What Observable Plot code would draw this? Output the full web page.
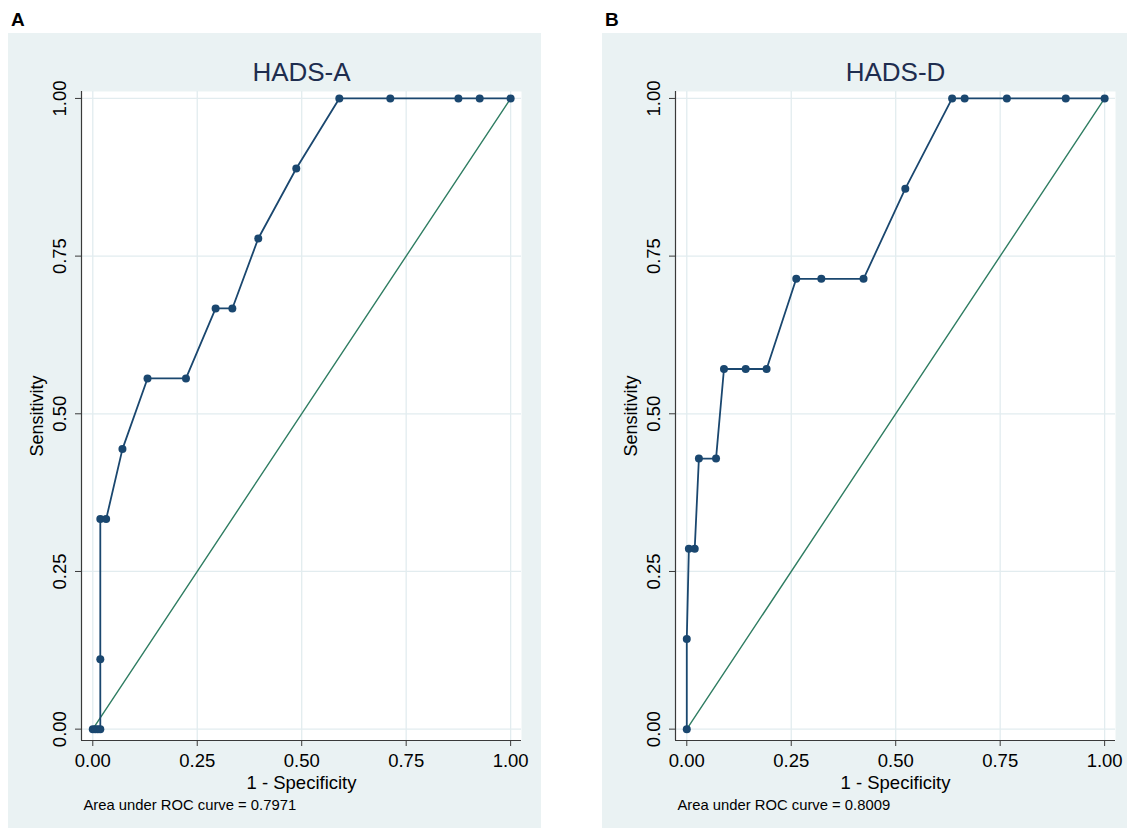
<!DOCTYPE html>
<html>
<head>
<meta charset="utf-8">
<script src="https://cdn.jsdelivr.net/npm/d3@7"></script>
<script src="https://cdn.jsdelivr.net/npm/@observablehq/plot@0.6"></script>
<style>
  html, body { margin: 0; padding: 0; background: #ffffff; }
  body { width: 1127px; height: 830px; position: relative; overflow: hidden;
         font-family: "Liberation Sans", Arial, sans-serif; }
  .panel { position: absolute; top: 33px; background: #eaf2f3; }
  .tag { position: absolute; top: 9px; font-weight: bold; font-size: 19px; color: #000; line-height: 22px; }
</style>
</head>
<body>
<div class="tag" style="left:11px">A</div>
<div class="tag" style="left:605px">B</div>
<div id="pa" class="panel" style="left:8px;width:533px;height:795px"></div>
<div id="pb" class="panel" style="left:602px;width:525px;height:795px"></div>
<script>
// ---- data ----
const panelTitles = ["HADS-A", "HADS-D"];
const aucLabels = ["Area under ROC curve = 0.7971", "Area under ROC curve = 0.8009"];
const xLabel = "1 - Specificity";
const yLabel = "Sensitivity";
const xTicks = [0, 0.25, 0.5, 0.75, 1];
const yTicks = [0, 0.25, 0.5, 0.75, 1];
const tickLabels = ["0.00", "0.25", "0.50", "0.75", "1.00"];

// HADS-A ROC points (1 - specificity, sensitivity)
const hadsA_fpr  = [0, 0.006, 0.012, 0.018, 0.018, 0.018, 0.032, 0.071, 0.131, 0.223, 0.294, 0.334, 0.396, 0.487, 0.590, 0.712, 0.875, 0.926, 1];
const hadsA_sens = [0, 0,     0,     0,     0.111, 0.333, 0.333, 0.444, 0.556, 0.556, 0.667, 0.667, 0.778, 0.889, 1,     1,     1,     1,     1];

// HADS-D ROC points
const hadsD_fpr  = [0, 0,     0.005, 0.019, 0.029, 0.070, 0.089, 0.141, 0.191, 0.262, 0.322, 0.423, 0.523, 0.635, 0.665, 0.766, 0.907, 1];
const hadsD_sens = [0, 0.143, 0.286, 0.286, 0.429, 0.429, 0.571, 0.571, 0.571, 0.714, 0.714, 0.714, 0.857, 1,     1,     1,     1,     1];

// chance reference line endpoints
const refLine = [0, 1];

// ---- styling ----
const navy = "#1a476f";
const green = "#2f7d62";
const gridColor = "#e2ecef";
const axisColor = "#3a3a3a";
const fontFamily = '"Liberation Sans", Arial, sans-serif';
const xDomain = [-0.027, 1.026];
const yDomain = [-0.018, 1.011];

function fmt(d) { return tickLabels[yTicks.indexOf(d)]; }

function makePanel(title, auc, fpr, sens, width, marginRight) {
  const pts = fpr.map((x, i) => ({x, y: sens[i]}));
  return Plot.plot({
    width,
    height: 795,
    marginLeft: 73,
    marginRight,
    marginTop: 58,
    marginBottom: 88,
    style: {background: "transparent", fontFamily, color: "#000", overflow: "visible"},
    x: {domain: xDomain},
    y: {domain: yDomain},
    marks: [
      Plot.frame({fill: "#ffffff", stroke: null}),
      Plot.gridX(xTicks, {stroke: gridColor, strokeOpacity: 1, strokeWidth: 1.3}),
      Plot.gridY(yTicks, {stroke: gridColor, strokeOpacity: 1, strokeWidth: 1.3}),
      Plot.ruleX([xDomain[0]], {stroke: axisColor, strokeWidth: 1.2}),
      Plot.ruleY([yDomain[0]], {stroke: axisColor, strokeWidth: 1.2}),
      Plot.axisX(xTicks, {
        tickFormat: d => tickLabels[xTicks.indexOf(d)],
        tickSize: 6, tickPadding: 7, fontSize: 18.5, label: null, stroke: axisColor, fill: "#000"
      }),
      Plot.axisY(yTicks, {
        tickFormat: fmt, tickRotate: -90,
        tickSize: 6, tickPadding: 10, fontSize: 18.5, label: null, stroke: axisColor, fill: "#000"
      }),
      Plot.line(refLine, {x: d => d, y: d => d, stroke: green, strokeWidth: 1.4}),
      Plot.line(pts, {x: "x", y: "y", stroke: navy, strokeWidth: 1.8}),
      Plot.dot(pts, {x: "x", y: "y", r: 4, fill: navy, stroke: null}),
      Plot.text([title], {frameAnchor: "top", lineAnchor: "bottom", dy: -11, fontSize: 26, fill: "#1e2d4f"}),
      Plot.text([xLabel], {frameAnchor: "bottom", lineAnchor: "bottom", dy: 48, fontSize: 18.5, fill: "#000"}),
      Plot.text([yLabel], {frameAnchor: "left", rotate: -90, textAnchor: "middle", lineAnchor: "middle", dx: -44, fontSize: 18, fill: "#000"}),
      Plot.text([auc], {frameAnchor: "bottom-left", textAnchor: "start", lineAnchor: "bottom", dx: 2, dy: 69, fontSize: 14.8, fill: "#000"})
    ]
  });
}

document.getElementById("pa").append(makePanel(panelTitles[0], aucLabels[0], hadsA_fpr, hadsA_sens, 533, 20));
document.getElementById("pb").append(makePanel(panelTitles[1], aucLabels[1], hadsD_fpr, hadsD_sens, 525, 12));
</script>
</body>
</html>
